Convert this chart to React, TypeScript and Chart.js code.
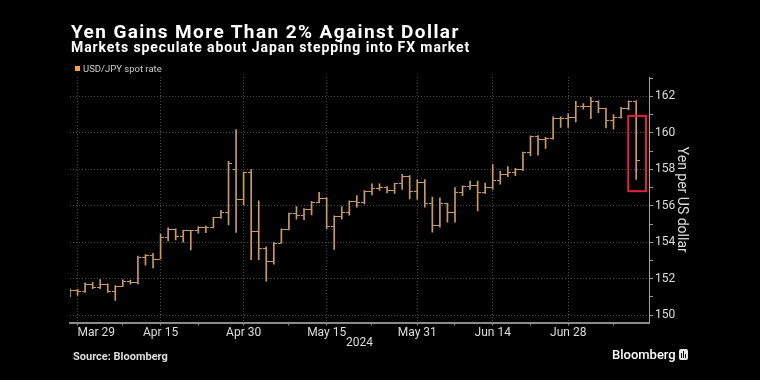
import React, { useEffect, useRef } from 'react';
import { Chart, registerables } from 'chart.js';

Chart.register(...registerables);

// Trading days (USD/JPY daily bars)
const dates = [
  'Mar 28', 'Mar 29',
  'Apr 1', 'Apr 2', 'Apr 3', 'Apr 4', 'Apr 5', 'Apr 8', 'Apr 9', 'Apr 10', 'Apr 11', 'Apr 12',
  'Apr 15', 'Apr 16', 'Apr 17', 'Apr 18', 'Apr 19', 'Apr 22', 'Apr 23', 'Apr 24', 'Apr 25', 'Apr 26',
  'Apr 29', 'Apr 30',
  'May 1', 'May 2', 'May 3', 'May 6', 'May 7', 'May 8', 'May 9', 'May 10', 'May 13', 'May 14',
  'May 15', 'May 16', 'May 17', 'May 20', 'May 21', 'May 22', 'May 23', 'May 24', 'May 27', 'May 28',
  'May 29', 'May 30', 'May 31',
  'Jun 3', 'Jun 4', 'Jun 5', 'Jun 6', 'Jun 7', 'Jun 10', 'Jun 11', 'Jun 12', 'Jun 13', 'Jun 14',
  'Jun 17', 'Jun 18', 'Jun 19', 'Jun 20', 'Jun 21', 'Jun 24', 'Jun 25', 'Jun 26', 'Jun 27', 'Jun 28',
  'Jul 1', 'Jul 2', 'Jul 3', 'Jul 4', 'Jul 5', 'Jul 8', 'Jul 9', 'Jul 10', 'Jul 11',
];

const openPrices = [
  151.35, 151.35,
  151.30, 151.67, 151.52, 151.68, 151.28, 151.60, 151.85, 151.78, 153.18, 153.25,
  153.08, 154.24, 154.69, 154.33, 154.62, 154.62, 154.81, 154.80, 155.33, 155.64,
  157.98, 156.33,
  157.80, 154.58, 153.64, 152.97, 153.95, 154.70, 155.55, 155.49, 155.80, 156.20,
  156.42, 154.87, 155.40, 155.64, 156.25, 156.20, 156.79, 156.97, 157.00, 156.86,
  157.20, 157.63, 156.78,
  157.30, 156.10, 154.90, 156.12, 155.64, 156.75, 157.04, 157.12, 156.73, 157.00,
  157.40, 157.73, 157.84, 157.98, 158.90, 159.78, 159.65, 159.70, 160.78, 160.78,
  160.85, 161.47, 161.45, 161.73, 161.33, 160.69, 160.82, 161.33, 161.69,
];

const highPrices = [
  151.45, 151.42,
  151.77, 151.80, 151.95, 151.72, 151.62, 151.94, 151.93, 153.24, 153.32, 153.39,
  154.45, 154.79, 154.74, 154.66, 154.66, 154.86, 154.88, 155.37, 155.75, 158.44,
  160.18, 157.85,
  157.99, 156.27, 153.75, 154.00, 154.73, 155.60, 155.96, 155.85, 156.24, 156.73,
  156.45, 155.45, 155.95, 156.27, 156.56, 156.83, 157.20, 157.20, 157.05, 157.25,
  157.72, 157.65, 157.43,
  157.43, 156.47, 156.44, 156.14, 157.00, 157.09, 157.35, 157.35, 157.25, 158.26,
  157.90, 158.15, 158.05, 158.95, 159.83, 159.85, 159.75, 160.87, 160.87, 161.04,
  161.73, 161.60, 161.95, 161.75, 161.35, 161.00, 161.40, 161.75, 161.76,
];

const lowPrices = [
  151.02, 151.08,
  151.25, 151.45, 151.45, 151.25, 150.81, 151.58, 151.70, 151.72, 152.75, 152.59,
  153.08, 154.07, 154.13, 154.00, 153.58, 154.50, 154.53, 154.78, 155.30, 154.95,
  154.54, 156.05,
  153.05, 153.05, 151.87, 152.80, 153.95, 154.68, 155.27, 155.24, 155.50, 156.15,
  154.73, 153.60, 155.27, 155.49, 155.93, 156.10, 156.60, 156.84, 156.70, 156.68,
  156.90, 156.37, 156.35,
  155.93, 154.55, 154.83, 155.10, 155.10, 156.55, 156.90, 155.72, 156.68, 156.90,
  157.19, 157.60, 157.65, 157.92, 158.75, 158.78, 159.15, 159.65, 160.30, 160.30,
  160.60, 161.30, 160.78, 161.10, 160.27, 160.20, 160.80, 161.25, 157.44,
];

const closePrices = [
  151.35, 151.30,
  151.67, 151.52, 151.68, 151.28, 151.60, 151.85, 151.78, 153.18, 153.25, 153.08,
  154.24, 154.69, 154.33, 154.62, 154.62, 154.81, 154.80, 155.33, 155.64, 158.33,
  156.33, 157.80,
  154.58, 153.64, 152.97, 153.95, 154.70, 155.55, 155.49, 155.80, 156.20, 156.42,
  154.87, 155.40, 155.64, 156.25, 156.20, 156.79, 156.97, 157.00, 156.86, 157.20,
  157.63, 156.78, 157.30,
  156.10, 154.90, 156.12, 155.64, 156.75, 157.04, 157.12, 156.73, 157.00, 157.40,
  157.73, 157.84, 157.98, 158.90, 159.78, 159.65, 159.70, 160.78, 160.78, 160.85,
  161.47, 161.45, 161.73, 161.33, 160.69, 160.82, 161.33, 161.73, 158.47,
];

const xTickLabels = ['Mar 29', 'Apr 15', 'Apr 30', 'May 15', 'May 31', 'Jun 14', 'Jun 28'];
const xMinorTickDates = ['Apr 8', 'Apr 22', 'May 8', 'May 23', 'Jun 7', 'Jun 21', 'Jul 8'];
const yTickValues = [150, 151, 152, 153, 154, 155, 156, 157, 158, 159, 160, 161, 162, 163];
const yLabelValues = [150, 152, 154, 156, 158, 160, 162];

const seriesLabel = 'USD/JPY spot rate';
const yAxisTitle = 'Yen per US dollar';
const xAxisTitle = '2024';
const titleText = 'Yen Gains More Than 2% Against Dollar';
const subtitleText = 'Markets speculate about Japan stepping into FX market';
const sourceText = 'Source: Bloomberg';

// highlight rectangle around the latest bar, in data units
const highlightBox = { xFrom: 73.95, xTo: 76.3, yFrom: 156.8, yTo: 160.93 };

const BAR_COLOR = '#c99b62';
const LEGEND_COLOR = '#f2a444';
const GRID_COLOR = '#4a4a4a';
const FONT = "Roboto, 'Noto Sans', 'DejaVu Sans', sans-serif";

function makeTick(side: 'left' | 'right'): HTMLCanvasElement {
  const c = document.createElement('canvas');
  c.width = 7;
  c.height = 1;
  const g = c.getContext('2d')!;
  g.fillStyle = BAR_COLOR;
  if (side === 'left') g.fillRect(0, 0, 3, 1);
  else g.fillRect(4, 0, 3, 1);
  return c;
}

export default function App() {
  const ref = useRef<HTMLCanvasElement>(null);

  useEffect(() => {
    document.body.style.margin = '0';
    document.body.style.background = '#000';
    const canvas = ref.current;
    if (!canvas) return;

    const majorIdx = xTickLabels.map((d) => dates.indexOf(d));
    const minorIdx = xMinorTickDates.map((d) => dates.indexOf(d));
    const labelByIdx = new Map<number, string>(majorIdx.map((v, k) => [v, xTickLabels[k]]));
    const majorSet = new Set(majorIdx);
    const yLabelSet = new Set(yLabelValues);

    const highlightPlugin = {
      id: 'highlightBox',
      afterDatasetsDraw(chart: any) {
        const { ctx, scales } = chart;
        const x = scales.x;
        const y = scales.y;
        const x1 = x.getPixelForValue(highlightBox.xFrom);
        const x2 = x.getPixelForValue(highlightBox.xTo);
        const y1 = y.getPixelForValue(highlightBox.yTo);
        const y2 = y.getPixelForValue(highlightBox.yFrom);
        ctx.save();
        ctx.strokeStyle = '#e2243a';
        ctx.lineWidth = 2;
        ctx.strokeRect(x1, y1, x2 - x1, y2 - y1);
        ctx.restore();
      },
    };

    const chart = new Chart(canvas, {
      type: 'scatter',
      data: {
        datasets: [
          {
            type: 'bar',
            label: seriesLabel,
            data: dates.map((_, i) => ({ x: i, y: [lowPrices[i], highPrices[i]] })) as any,
            backgroundColor: BAR_COLOR,
            borderWidth: 0,
            barThickness: 1,
            clip: 0 as any,
          } as any,
          {
            type: 'scatter',
            label: 'open',
            data: dates.map((_, i) => ({ x: i, y: openPrices[i] })),
            pointStyle: makeTick('left') as any,
            pointRadius: 3,
            clip: 0 as any,
          } as any,
          {
            type: 'scatter',
            label: 'close',
            data: dates.map((_, i) => ({ x: i, y: closePrices[i] })),
            pointStyle: makeTick('right') as any,
            pointRadius: 3,
            clip: 0 as any,
          } as any,
        ],
      },
      options: {
        animation: false,
        responsive: false,
        events: [],
        layout: { padding: { left: 70, top: 77, right: 70, bottom: 30 } },
        plugins: { legend: { display: false }, tooltip: { enabled: false }, title: { display: false } },
        scales: {
          x: {
            type: 'linear',
            position: 'bottom',
            min: 0,
            max: 76.7,
            offset: false,
            afterBuildTicks: (scale: any) => {
              scale.ticks = [...majorIdx, ...minorIdx].sort((a, b) => a - b).map((v) => ({ value: v }));
            },
            afterFit: (scale: any) => {
              scale.height = 27.5;
            },
            ticks: {
              autoSkip: false,
              maxRotation: 0,
              minRotation: 0,
              align: 'inner',
              padding: 0,
              color: '#dddddd',
              font: { family: FONT, size: 12 },
              callback: (v: any) => labelByIdx.get(Number(v)) ?? '',
            },
            grid: {
              offset: false,
              color: (ctx: any) => (ctx.tick && majorSet.has(ctx.tick.value) ? GRID_COLOR : 'rgba(0,0,0,0)'),
              tickColor: '#8a8a8a',
              tickLength: 3,
              lineWidth: 1,
            },
            border: { display: true, color: '#8a8a8a', width: 2, dash: [1, 2] },
            title: {
              display: true,
              text: xAxisTitle,
              color: '#dddddd',
              font: { family: FONT, size: 12 },
              padding: 0,
            },
          } as any,
          y: {
            type: 'linear',
            position: 'right',
            min: 149.6,
            max: 163.06,
            afterBuildTicks: (scale: any) => {
              scale.ticks = yTickValues.map((v) => ({ value: v }));
            },
            afterFit: (scale: any) => {
              scale.width = 41;
            },
            ticks: {
              autoSkip: false,
              padding: 2,
              color: '#dddddd',
              font: { family: FONT, size: 12 },
              callback: (v: any) => (yLabelSet.has(Number(v)) ? String(v) : ''),
            },
            grid: {
              color: (ctx: any) => (ctx.tick && yLabelSet.has(ctx.tick.value) ? GRID_COLOR : 'rgba(0,0,0,0)'),
              tickColor: '#9a9a9a',
              tickLength: 4,
              lineWidth: 1,
            },
            border: { display: true, color: '#a0a0a0', width: 1, dash: [1, 2] },
            title: {
              display: true,
              text: yAxisTitle,
              color: '#dddddd',
              font: { family: FONT, size: 14 },
              padding: 0,
            },
          } as any,
        },
      },
      plugins: [highlightPlugin],
    });

    return () => chart.destroy();
  }, []);

  return (
    <div
      style={{
        position: 'fixed',
        left: 0,
        top: 0,
        width: 760,
        height: 380,
        background: '#000',
        overflow: 'hidden',
        fontFamily: FONT,
      }}
    >
      <canvas ref={ref} width={760} height={380} style={{ position: 'absolute', left: 0, top: 0, width: 760, height: 380 }} />
      <div style={{ position: 'absolute', left: 71, top: 22, fontSize: 19, lineHeight: 1, fontWeight: 700, color: '#fff', whiteSpace: 'nowrap', letterSpacing: 1.4 }}>
        {titleText}
      </div>
      <div style={{ position: 'absolute', left: 71, top: 40, fontSize: 14, lineHeight: 1, fontWeight: 700, color: '#fff', whiteSpace: 'nowrap', letterSpacing: 0.9 }}>
        {subtitleText}
      </div>
      <div style={{ position: 'absolute', left: 75, top: 66, width: 5, height: 5, background: LEGEND_COLOR }} />
      <div style={{ position: 'absolute', left: 83, top: 63.5, fontSize: 9.5, lineHeight: 1, color: '#cccccc', whiteSpace: 'nowrap' }}>
        {seriesLabel}
      </div>
      <div style={{ position: 'absolute', left: 73, top: 351, fontSize: 11, lineHeight: 1, fontWeight: 700, color: '#dddddd', whiteSpace: 'nowrap' }}>
        {sourceText}
      </div>
      <div style={{ position: 'absolute', left: 612, top: 348, fontSize: 13, lineHeight: 1, fontWeight: 500, color: '#fff', whiteSpace: 'nowrap' }}>
        Bloomberg
      </div>
      <div style={{ position: 'absolute', left: 679, top: 349, width: 9, height: 11, background: '#e8e8e8', borderRadius: 2 }}>
        <div style={{ position: 'absolute', left: 2, top: 4, width: 1, height: 5, background: '#000' }} />
        <div style={{ position: 'absolute', left: 4, top: 2, width: 1, height: 7, background: '#000' }} />
        <div style={{ position: 'absolute', left: 6, top: 5, width: 1, height: 4, background: '#000' }} />
      </div>
    </div>
  );
}
